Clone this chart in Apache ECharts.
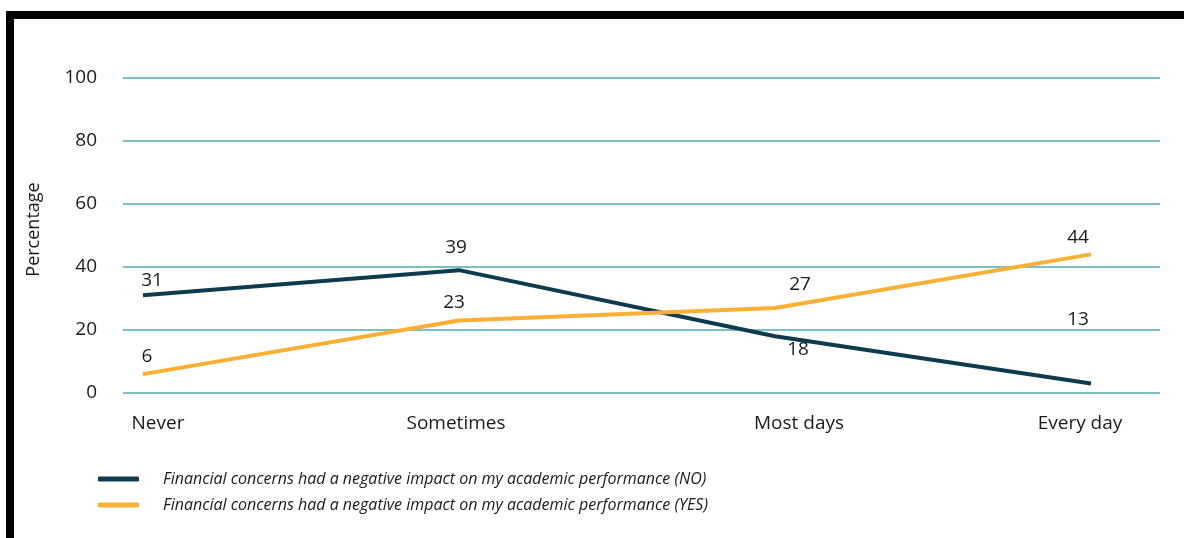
<!DOCTYPE html>
<html>
<head>
<meta charset="utf-8">
<script src="https://cdn.jsdelivr.net/npm/echarts@6/dist/echarts.min.js"></script>
<style>
html,body{margin:0;padding:0;background:#fff;}
#chart{width:1184px;height:538px;}
</style>
</head>
<body>
<div id="chart"></div>
<script>
const categories = ['Never', 'Sometimes', 'Most days', 'Every day'];
const seriesNames = [
  'Financial concerns had a negative impact on my academic performance (NO)',
  'Financial concerns had a negative impact on my academic performance (YES)'
];
// plotted positions as drawn in the picture
const noValues = [31, 39, 18, 3];
const yesValues = [6, 23, 27, 44];
// printed data labels
const noLabels = ['31', '39', '18', '13'];
const yesLabels = ['6', '23', '27', '44'];
const yTicks = [0, 20, 40, 60, 80, 100];

const darkColor = '#0e3c4e';
const yellowColor = '#fbb035';
const gridColor = '#7cc0c6';
const textColor = '#1a1a1a';
const font = 'Open Sans';

const noLabelStyle = [
  {position: 'top', distance: 5, offset: [9, 0]},
  {position: 'top', distance: 13, offset: [-3, 0]},
  {position: 'bottom', distance: 4, offset: [23, 0]},
  {position: 'top', distance: 54, offset: [-13, 0]}
];
const yesLabelStyle = [
  {position: 'top', distance: 8, offset: [4, 0]},
  {position: 'top', distance: 8, offset: [-5, 0]},
  {position: 'top', distance: 14, offset: [25, 0]},
  {position: 'top', distance: 7, offset: [-13, 0]}
];

function buildData(values, labels, styles) {
  return values.map((v, i) => ({
    value: v,
    label: Object.assign({formatter: labels[i]}, styles[i])
  }));
}

const chart = echarts.init(document.getElementById('chart'), null, {renderer: 'canvas'});
chart.setOption({
  backgroundColor: '#ffffff',
  animation: false,
  textStyle: {fontFamily: font},
  graphic: [
    {type: 'rect', shape: {x: 6, y: 11, width: 1178, height: 8}, style: {fill: '#000'}},
    {type: 'rect', shape: {x: 6, y: 11, width: 8, height: 527}, style: {fill: '#000'}}
  ],
  grid: [
    {left: 123, right: 24, top: 78, bottom: 145},
    {left: 143, right: 93, top: 78, bottom: 145}
  ],
  xAxis: [
    {gridIndex: 0, type: 'category', data: categories, show: false},
    {
      gridIndex: 1, type: 'category', data: categories, boundaryGap: false,
      axisLine: {show: false}, axisTick: {show: false},
      axisLabel: {
        color: textColor, fontSize: 19, fontFamily: font, margin: 21,
        formatter: function (v, i) { return '{c' + i + '|' + v + '}'; },
        rich: {
          c0: {padding: [0, 0, 0, 30], fontSize: 19, color: textColor},
          c1: {padding: [0, 6, 0, 0], fontSize: 19, color: textColor},
          c2: {padding: [0, 0, 0, 48], fontSize: 19, color: textColor},
          c3: {padding: [0, 22, 0, 0], fontSize: 19, color: textColor}
        }
      },
      splitLine: {show: false}
    }
  ],
  yAxis: [
    {
      gridIndex: 0, type: 'value', min: yTicks[0], max: yTicks[yTicks.length - 1], interval: 20,
      name: 'Percentage', nameLocation: 'middle', nameGap: 80, nameRotate: 90,
      nameTextStyle: {color: textColor, fontSize: 18, fontFamily: font, padding: [0, 0, 0, 12]},
      axisLine: {show: false}, axisTick: {show: false},
      axisLabel: {color: textColor, fontSize: 19, fontFamily: font, margin: 26},
      splitLine: {show: true, lineStyle: {color: gridColor, width: 2}}
    },
    {
      gridIndex: 1, type: 'value', min: yTicks[0], max: yTicks[yTicks.length - 1], interval: 20,
      show: false, splitLine: {show: false}
    }
  ],
  legend: {
    orient: 'vertical', left: 93, top: 466, itemWidth: 41, itemHeight: 5, itemGap: 10,
    icon: 'roundRect',
    data: seriesNames,
    textStyle: {fontFamily: font, fontStyle: 'italic', fontSize: 16, color: textColor, padding: [0, 0, 0, 19]}
  },
  series: [
    {
      name: seriesNames[0], type: 'line', xAxisIndex: 1, yAxisIndex: 1,
      data: buildData(noValues, noLabels, noLabelStyle),
      symbol: 'circle', symbolSize: 0, showSymbol: true,
      lineStyle: {color: darkColor, width: 4}, itemStyle: {color: darkColor},
      label: {show: true, color: textColor, fontSize: 19, fontFamily: font}
    },
    {
      name: seriesNames[1], type: 'line', xAxisIndex: 1, yAxisIndex: 1,
      data: buildData(yesValues, yesLabels, yesLabelStyle),
      symbol: 'circle', symbolSize: 0, showSymbol: true,
      lineStyle: {color: yellowColor, width: 4}, itemStyle: {color: yellowColor},
      label: {show: true, color: textColor, fontSize: 19, fontFamily: font}
    }
  ]
});
</script>
</body>
</html>
